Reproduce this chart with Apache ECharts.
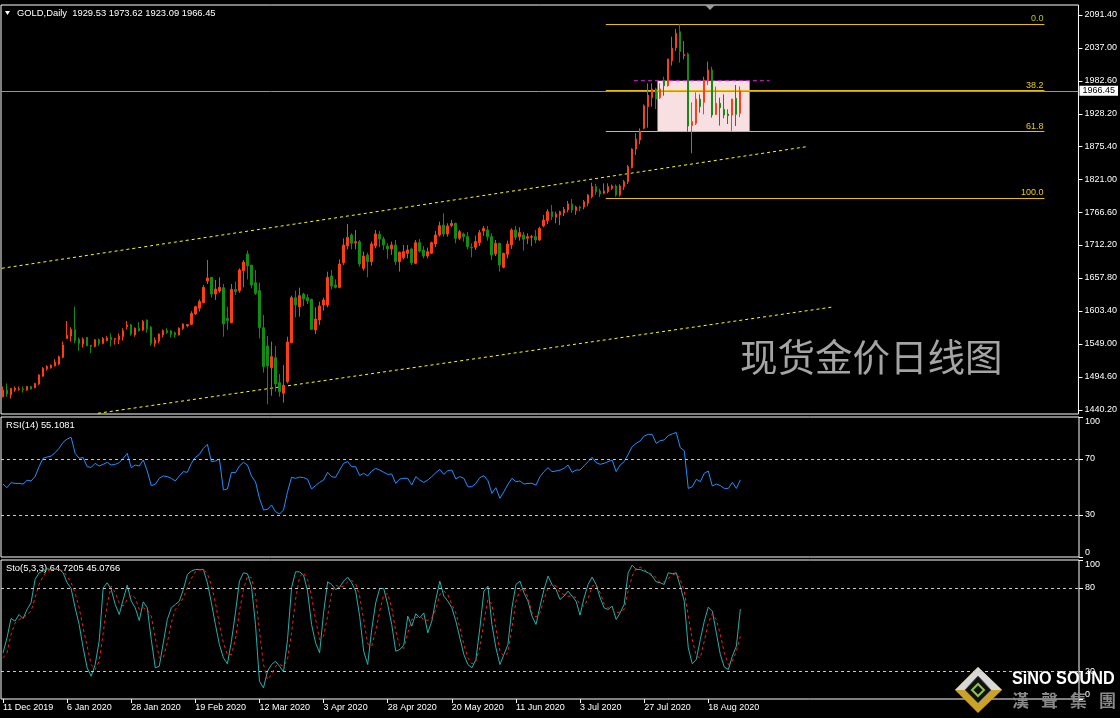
<!DOCTYPE html>
<html><head><meta charset="utf-8">
<script src="https://cdn.jsdelivr.net/npm/echarts@6/dist/echarts.min.js"></script>
<style>html,body{margin:0;padding:0;background:#000;}#c{width:1120px;height:718px;}</style>
</head><body><div id="c"></div>
<script>
// ---------- DATA ----------
// daily candles [open, high, low, close]
const candles = [
[1462,1479,1461,1473],[1473,1484,1462,1467],[1465,1476,1459,1476],[1473,1479,1470,1476],[1474,1479,1472,1475],
[1475,1479,1469,1474],[1473,1480,1472,1479],[1479,1480,1474,1475],[1477,1485,1476,1484],[1483,1499,1481,1498],
[1496,1511,1495,1509],[1508,1514,1505,1512],[1509.5,1515.5,1508.5,1514],[1513,1524,1512,1519],[1516,1530,1514,1528],
[1527,1553,1525.5,1547.5],[1558,1587,1557.5,1563],[1562,1576.5,1553,1573],[1573,1610.5,1550,1554.5],[1557,1560,1538,1550],
[1549,1560,1543,1557],[1560,1560,1546,1546],[1547,1547,1534,1545],[1545,1557,1543.5,1556],[1556,1558,1546,1550],
[1550,1560.5,1548.5,1558],[1554.5,1562,1553.5,1559],[1560,1566.5,1545,1556],[1557,1559,1548,1558],[1556,1566.5,1549,1562],
[1561,1575,1554.5,1571],[1577.5,1587,1573,1580.5],[1580.5,1582,1563,1565.5],[1564,1576.5,1561,1575],[1575,1585,1569.5,1571],
[1572,1588.5,1570.5,1586],[1588.5,1589.5,1568,1574],[1576.5,1579,1546,1550],[1550,1560,1544.5,1555.5],[1554,1566.5,1550,1565.5],
[1564,1573,1560,1571],[1571,1575,1565.5,1568],[1570.5,1572,1560,1565],[1567.5,1569.5,1559.5,1564],[1564,1576.5,1563,1575],
[1574.5,1583,1572,1582],[1579,1582,1576.5,1581],[1581.5,1603,1580,1599.5],[1598.5,1612,1597,1610.5],[1608,1622.5,1602.5,1619],
[1617.2,1646.3,1616.1,1642.4],[1652.9,1687.5,1648,1657.8],[1659,1659,1625.4,1631.4],[1631.4,1654.5,1621.5,1639.7],[1636.4,1659,1633.6,1642.4],
[1641.9,1648,1561.1,1582],[1591.3,1610.6,1572.1,1587.5],[1584.2,1648,1583.1,1639.1],[1639.1,1651.8,1629.8,1635.3],[1637,1673.8,1633.6,1671],
[1669.9,1687.5,1642.4,1684.2],[1697.4,1702.9,1655.6,1677.6],[1679.2,1679.2,1640.8,1646.3],[1650.1,1671,1629.8,1632.5],[1636.9,1650.1,1558.4,1575.9],
[1575.9,1596.8,1501.8,1511.6],[1545.7,1562.2,1449.6,1512.7],[1510,1552.9,1463.8,1528.1],[1526.5,1545.7,1470.4,1483.1],[1485.3,1499.6,1462.2,1470.4],
[1467.7,1514.4,1452.3,1480.9],[1486.9,1561.1,1484.2,1552.3],[1551.2,1628.7,1550.1,1625.4],[1625.4,1636.9,1593,1613.3],[1610.6,1641.9,1594.1,1628.7],
[1631.4,1633.6,1611.7,1623.2],[1625.4,1630.9,1615,1620.4],[1622.6,1623.7,1572.1,1573.2],[1572.1,1609.5,1565.5,1590.2],[1588.6,1618.8,1580.3,1611.7],
[1613.3,1625.4,1604,1621.5],[1613.3,1668.3,1609.5,1658.9],[1661.1,1671,1639.1,1644.6],[1646.3,1655.6,1640.8,1642.4],[1642.4,1688.6,1640.8,1680.9],
[1683.1,1723.2,1679.2,1712.2],[1710.6,1746.8,1705.1,1724.9],[1728.7,1731.4,1705.1,1715],[1715.7,1736.9,1705.1,1717.7],[1717.7,1720.5,1676.5,1680.9],
[1673.8,1701.2,1669.9,1694.1],[1695.7,1699.6,1658.9,1684.7],[1684.8,1717.8,1678.2,1713.9],[1710.6,1737,1706.8,1730.4],[1729.8,1735.3,1708.4,1722.2],
[1722.2,1726,1704,1712.3],[1710.6,1715,1689.2,1705.7],[1705.7,1717.8,1695.8,1712.3],[1712.3,1720.5,1679.3,1684.8],[1684.8,1701.3,1668.3,1700.2],
[1691.4,1712.3,1688.6,1701.3],[1698.5,1712.3,1690.3,1704],[1705.7,1707.9,1679.3,1683.1],[1682,1720.5,1681,1716.1],[1716.1,1722.2,1699.6,1702.4],
[1704,1710.6,1690.3,1694.1],[1694.1,1707.9,1690.3,1701.3],[1698.5,1717.8,1697.4,1716.1],[1713.9,1735.3,1708.4,1728.7],[1728.7,1750.7,1726,1744.1],
[1745.2,1764.5,1726,1730.4],[1730.4,1748,1726,1743.6],[1744.1,1753.5,1741.4,1748],[1748,1749.1,1715,1723.3],[1723.3,1737,1720.5,1734.2],
[1730.4,1732.6,1717.8,1726],[1726,1733.7,1705.1,1709.5],[1708.4,1715,1691.9,1707.3],[1708.4,1727.6,1704,1717.8],[1716.1,1737,1710.6,1732.6],
[1735.3,1743.6,1727.1,1739.7],[1737,1743.6,1719.4,1726],[1726,1731.5,1687.5,1695.8],[1697.4,1720.5,1694.1,1715],[1715,1716.1,1668.3,1679.3],
[1675.4,1699.6,1673.8,1698.5],[1696.9,1719.4,1690.3,1713.9],[1712.3,1739.7,1705.7,1737],[1737,1743.6,1720.5,1724.9],[1726,1741.4,1719.4,1732.6],
[1728.7,1734.2,1703,1721.6],[1723.3,1731.5,1713.9,1726],[1724.9,1728.7,1710.6,1726],[1726,1737,1715,1720.5],[1720.5,1742.5,1718.9,1739.7],
[1743.6,1761.7,1741.4,1753.5],[1752.4,1771.1,1746.9,1767.2],[1767.2,1778.2,1753.5,1759],[1757.9,1767.2,1748,1763.4],[1761.7,1768.9,1745.2,1767.2],
[1765,1775,1760,1771],[1770,1785,1766,1780],[1780,1788,1765,1770],[1769,1777,1762,1775],[1775,1777,1768,1773],
[1775,1786.4,1771,1783.7],[1781,1796,1776,1794.7],[1791.9,1815,1789.2,1808.4],[1808.4,1813,1795,1800.2],[1801.3,1805,1791,1796.3],
[1797.4,1813.9,1795.8,1801.3],[1800.2,1813.9,1797.4,1808.4],[1805.7,1812,1803,1809.5],[1809.5,1812,1792,1794.7],[1794.7,1812.3,1791.9,1809.5],
[1808.4,1819.4,1802.9,1816.6],[1816.6,1844.1,1812.8,1841.4],[1839.7,1871.6,1838.6,1870.5],[1870.5,1896.3,1860.6,1887],[1885.3,1904.6,1878.2,1900.2],
[1904.6,1944.1,1902.9,1941.9],[1940.3,1978.8,1905.7,1959.5],[1955.1,1978.8,1940.3,1969.4],[1969.4,1971.6,1936.4,1952.9],[1955.1,1978.8,1952.9,1969.4],
[1984.3,1989.7,1958.4,1974.9],[1974.9,2018.9,1973.3,2018.9],[2016.1,2055.7,2007.9,2036.5],[2037.5,2068.3,2032,2061.2],[2063.9,2076,2012.8,2031],
[2024.4,2048.5,2018.3,2026.6],[2027.1,2029.3,1899.1,1908.4],[1909,1947.4,1863.4,1915.6],[1912.8,1963.9,1910,1952.9],[1952.9,1960.6,1930.4,1940.3],
[1947.4,1989.7,1927.6,1984.3],[1983.1,2014.5,1975.9,2000.7],[2000.7,2006.2,1922.2,1926.5],[1927.6,1973.3,1926.5,1945.8],[1945.8,1955.1,1909,1938.6],
[1935.9,1960.6,1921.1,1926.5],[1928.2,1935.9,1911.7,1925.4],[1926.5,1952.9,1900.2,1952.9],[1954,1976,1908.4,1927.6],[1929.53,1973.62,1923.09,1966.45]
];
const rsi = [
52.1,49.5,53.1,52.6,52.6,52.1,54.8,54.3,57.4,64.5,
70.5,71.4,72.1,74.5,77.6,81.9,84.3,85.5,74.0,70.5,
71.0,64.5,64.0,66.9,65.0,66.2,67.6,65.7,66.2,67.4,
70.5,74.0,63.8,65.7,65.0,69.3,61.4,51.0,51.9,56.2,
57.9,57.4,56.2,54.3,57.9,61.0,60.5,66.9,71.2,73.3,
77.6,80.5,68.1,68.6,70.0,47.9,48.6,60.5,60.2,65.0,
67.6,65.7,57.9,53.8,41.9,33.6,34.0,37.1,32.4,30.7,
33.6,46.7,56.9,56.2,57.1,56.7,55.5,48.6,51.0,53.3,
55.0,60.5,57.4,56.9,62.1,66.9,68.1,64.5,64.5,58.1,
59.8,57.9,61.4,63.3,62.1,60.5,59.0,59.3,52.6,55.7,
56.2,56.2,51.4,57.4,55.0,53.3,55.0,57.4,60.2,62.6,
59.0,61.7,62.1,55.7,57.4,56.2,50.2,50.2,52.6,56.7,
58.1,54.5,45.5,49.5,41.9,46.7,51.9,56.2,53.8,54.3,
52.1,52.6,52.6,51.4,57.4,61.0,63.8,61.0,61.4,62.1,
63.3,65.7,60.5,62.1,62.1,65.2,68.1,71.2,67.4,66.2,
66.9,68.1,69.3,61.0,65.7,68.1,73.3,78.8,81.2,82.9,
86.4,87.6,87.6,81.2,83.1,83.6,86.7,87.9,89.0,78.1,
76.0,49.0,50.2,55.5,53.8,59.8,61.4,50.7,52.1,51.0,
49.0,49.0,53.3,49.0,55.1
];
const stoMain = [
33.2,44.0,57.9,56.0,60.8,57.9,64.4,69.2,86.0,90.8,
92.0,93.7,93.2,93.2,93.2,90.8,83.6,79.5,65.6,53.6,
36.8,22.4,16.4,24.8,41.6,80.0,83.6,78.8,68.0,60.8,
71.6,81.9,70.4,65.6,56.5,69.9,65.6,42.8,22.4,23.6,
40.4,57.2,65.6,68.0,70.4,78.8,89.6,92.0,93.2,93.2,
93.2,83.6,69.2,53.6,39.2,29.6,25.3,41.6,62.0,84.8,
90.8,90.1,81.2,53.6,12.8,8.0,20.0,24.8,27.2,23.6,
19.5,42.8,80.0,91.5,91.5,89.1,77.6,53.6,40.4,33.2,
62.0,84.3,82.4,78.8,80.5,84.8,87.7,83.6,77.6,59.6,
34.4,24.8,50.0,69.2,79.5,79.5,68.0,53.6,34.4,35.6,
38.7,59.6,52.4,61.3,58.4,62.0,47.6,56.0,71.6,84.8,
74.0,70.4,65.6,56.0,44.0,32.0,24.8,22.4,28.4,51.2,
77.6,81.2,53.6,36.8,24.8,32.0,39.2,65.6,82.4,84.8,
76.4,70.4,59.6,53.6,66.8,78.8,88.4,82.4,78.8,71.6,
74.0,77.6,74.0,70.4,60.3,72.8,82.4,87.7,82.4,72.8,
65.6,64.4,66.8,57.2,62.0,68.0,90.8,96.3,93.2,93.2,
92.0,90.8,88.4,84.3,83.6,82.4,90.8,90.1,90.8,81.2,
70.4,36.8,25.3,28.4,42.8,56.0,66.1,63.2,47.6,32.0,
22.9,21.2,30.8,38.0,64.72
];
const stoSignal = [
29.6,33.2,46.4,54.8,57.2,58.4,60.8,63.2,72.8,82.4,
88.4,92.0,93.2,93.2,93.2,92.0,88.4,83.6,76.4,65.6,
51.2,38.0,24.8,21.2,27.2,47.6,68.0,81.2,76.4,69.2,
66.8,71.6,74.7,72.8,64.4,65.6,64.4,59.6,44.0,29.6,
29.6,40.4,54.8,64.4,68.0,72.8,80.0,86.7,91.5,92.7,
93.2,90.1,81.9,69.2,53.6,40.4,32.0,32.0,42.8,63.2,
78.8,88.4,87.2,75.2,48.8,24.8,14.0,17.6,23.6,24.8,
23.6,28.4,47.6,71.6,87.7,90.8,86.0,74.0,57.2,42.8,
45.2,59.6,76.4,81.9,80.5,81.2,84.3,85.3,82.9,74.0,
57.2,39.7,38.0,49.0,63.2,75.2,75.7,65.6,48.8,38.0,
36.3,47.6,57.2,58.4,59.6,57.2,56.5,58.4,64.4,75.2,
77.6,75.2,68.0,62.0,51.2,39.2,29.6,25.3,27.2,36.8,
56.0,71.6,68.0,51.2,34.4,30.8,33.2,51.2,70.4,78.1,
80.0,72.8,62.0,58.9,62.0,71.6,80.0,82.9,81.2,76.4,
75.2,74.0,74.0,72.8,68.0,66.8,72.3,81.2,82.4,76.4,
68.5,65.6,64.4,62.0,62.7,64.4,77.6,88.4,93.9,94.9,
93.2,90.8,89.6,87.2,83.6,84.3,86.7,89.1,90.3,86.0,
77.6,59.6,42.8,30.8,29.6,41.6,54.8,61.3,57.2,46.4,
33.2,24.8,27.2,34.4,45.08
];
const dateLabels = ['11 Dec 2019','6 Jan 2020','28 Jan 2020','19 Feb 2020','12 Mar 2020','3 Apr 2020',
  '28 Apr 2020','20 May 2020','11 Jun 2020','3 Jul 2020','27 Jul 2020','18 Aug 2020'];
const priceTicks = [2091.4,2037.0,1982.6,1928.2,1875.4,1821.0,1766.6,1712.2,1657.8,1603.4,1549.0,1494.6,1440.2];
const rsiTicks = [0,30,70,100];
const rsiLevels = [70,30];
const stoTicks = [0,20,80,100];
const stoLevels = [80,20];
const fibLabels = ['0.0','38.2','61.8','100.0'];
const fibPrices = [2076.2,1966.7,1899.1,1789.6];
const fibBars = [150.5,260];
const upperTrend = [[-0.3,1673.8],[200.9,1874.6]];
const lowerTrend = [[23.7,1434.8],[207.1,1610.0]];
const boxCorners = [[163.4,1983.2],[186.4,1900.2]];
const magentaLine = [[157.5,1983.1],[191.4,1983.1]];
const lastPrice = 1966.45;
const headerText = 'GOLD,Daily  1929.53 1973.62 1923.09 1966.45';
const rsiText = 'RSI(14) 55.1081';
const stoText = 'Sto(5,3,3) 64.7205 45.0766';
const watermark = '现货金价日线图';
const logoName = 'SiNO SOUND';
const logoChars = ['漢','聲','集','團'];
const TOTAL_SLOTS = 269;
const LABEL_EVERY = 16;

// ---------- CHART ----------
const FONT = 'Liberation Sans';
const chart = echarts.init(document.getElementById('c'), null, {renderer: 'canvas'});
const cats = Array.from({length: TOTAL_SLOTS}, (_, i) => String(i));
const labelInterval = (idx) => idx % LABEL_EVERY === 0 && idx / LABEL_EVERY < dateLabels.length;

const grids = [
  {left: 1, top: 5, width: 1078, height: 409},
  {left: 1, top: 417, width: 1078, height: 140},
  {left: 1, top: 560, width: 1078, height: 139}
].map(g => Object.assign({show: true, borderColor: '#ffffff', borderWidth: 1, backgroundColor: '#000'}, g));

const hiddenCat = (gi) => ({type: 'category', gridIndex: gi, data: cats, boundaryGap: true,
  axisLine: {show: false}, axisTick: {show: false}, axisLabel: {show: false}, splitLine: {show: false}});

const yAx = (gi, min, max, ticks, fmt, edgeAlign) => {
  const lab = {color: '#ffffff', fontSize: 9, fontFamily: FONT, margin: 6, customValues: ticks, formatter: fmt};
  if (edgeAlign) { lab.verticalAlignMinLabel = 'bottom'; lab.verticalAlignMaxLabel = 'top'; }
  return {type: 'value', gridIndex: gi, position: 'right', min, max,
    splitLine: {show: false}, axisLine: {show: false, onZero: false},
    axisTick: {show: true, length: 4, lineStyle: {color: '#ffffff'}, customValues: ticks},
    axisLabel: lab};
};

const levelLines = (levels) => ({silent: true, symbol: ['none', 'none'], label: {show: false},
  lineStyle: {color: '#c8c8c8', type: [3, 3], width: 1}, data: levels.map(v => ({yAxis: v}))});

const overlay = (extra) => Object.assign({type: 'line', xAxisIndex: 3, yAxisIndex: 0, symbol: 'none',
  silent: true, animation: false}, extra);

const logoCharGraphics = logoChars.map((ch, i) => ({type: 'text', left: 1012 + i * 29, top: 692,
  style: {text: ch, fill: '#8a8a8a', font: 'bold 17px "Noto Sans CJK TC"'}}));

const option = {
  animation: false,
  backgroundColor: '#000000',
  grid: grids,
  xAxis: [
    hiddenCat(0), hiddenCat(1),
    {type: 'category', gridIndex: 2, data: cats, boundaryGap: true,
      axisLine: {show: false, onZero: false}, splitLine: {show: false},
      axisTick: {show: true, interval: labelInterval, alignWithLabel: true, length: 4, lineStyle: {color: '#ffffff'}},
      axisLabel: {show: true, interval: labelInterval, align: 'left', color: '#ffffff', fontSize: 9, fontFamily: FONT, margin: 4,
        formatter: (v, idx) => dateLabels[Math.round(idx / LABEL_EVERY)] || ''}},
    {type: 'value', gridIndex: 0, min: -0.5, max: TOTAL_SLOTS - 0.5, show: false, axisLine: {onZero: false}}
  ],
  yAxis: [
    yAx(0, 1433.6, 2107.9, priceTicks, v => v.toFixed(2), false),
    yAx(1, 0, 100, rsiTicks, v => String(v), true),
    yAx(2, 0, 100, stoTicks, v => String(v), true)
  ],
  series: [
    overlay({z: 1, data: [boxCorners[0]], lineStyle: {opacity: 0},
      markArea: {silent: true, itemStyle: {color: '#f8dfe1'},
        data: [[{coord: boxCorners[0]}, {coord: boxCorners[1]}]]}}),
    overlay({z: 2, data: [[fibBars[0], fibPrices[0]]], lineStyle: {opacity: 0},
      markLine: {silent: true, symbol: ['none', 'none'], lineStyle: {color: '#e8c000', type: 'solid', width: 1},
        data: fibPrices.map((p, i) => [
          {coord: [fibBars[0], p], label: {show: true, position: 'insideEndTop', formatter: fibLabels[i],
            color: i === 0 ? '#b8c800' : '#e8d000', fontSize: 9, fontFamily: FONT, distance: 1}},
          {coord: [fibBars[1], p]}])}}),
    overlay({z: 3, data: magentaLine, lineStyle: {color: '#e020e0', type: [4, 3], width: 1}}),
    overlay({z: 3, data: upperTrend, lineStyle: {color: '#ffff00', type: [3, 3], width: 1}}),
    overlay({z: 3, data: lowerTrend, lineStyle: {color: '#ffff00', type: [3, 3], width: 1}}),
    {type: 'candlestick', xAxisIndex: 0, yAxisIndex: 0, z: 5, barWidth: 2,
      data: candles.map(([o, h, l, c]) => [o, c, l, h]),
      itemStyle: {color: '#ff3c14', color0: '#0f8f0f', borderColor: '#ff3c14', borderColor0: '#0f8f0f', borderWidth: 1},
      markLine: {silent: true, symbol: ['none', 'none'], lineStyle: {color: '#8a96a2', type: 'solid', width: 1},
        label: {show: true, position: 'end', formatter: lastPrice.toFixed(2), color: '#000', backgroundColor: '#ffffff',
          padding: [1, 3, 0, 3], fontSize: 9, fontFamily: FONT, distance: 1},
        data: [{yAxis: lastPrice}]}},
    {type: 'line', xAxisIndex: 1, yAxisIndex: 1, data: rsi, symbol: 'none', z: 4,
      lineStyle: {color: '#1e90ff', width: 1}, markLine: levelLines(rsiLevels)},
    {type: 'line', xAxisIndex: 2, yAxisIndex: 2, data: stoMain, symbol: 'none', z: 4,
      lineStyle: {color: '#20b2aa', width: 1}, markLine: levelLines(stoLevels)},
    {type: 'line', xAxisIndex: 2, yAxisIndex: 2, data: stoSignal, symbol: 'none', z: 5,
      lineStyle: {color: '#ff1a1a', width: 1, type: [3, 3]}}
  ],
  graphic: [
    {type: 'polygon', shape: {points: [[5, 11], [10, 11], [7.5, 15]]}, style: {fill: '#ffffff'}},
    {type: 'text', left: 17, top: 9, style: {text: headerText, fill: '#ffffff', font: '9.4px "Liberation Sans"'}},
    {type: 'text', left: 6, top: 421, style: {text: rsiText, fill: '#ffffff', font: '9.4px "Liberation Sans"'}},
    {type: 'text', left: 6, top: 564, style: {text: stoText, fill: '#ffffff', font: '9.4px "Liberation Sans"'}},
    {type: 'polygon', shape: {points: [[705, 5], [715, 5], [710, 10]]}, style: {fill: '#9a9a9a'}},
    {type: 'text', left: 740, top: 338, style: {text: watermark, fill: '#a4a4a4', font: '37.5px "Noto Sans CJK SC"'}},
    // logo
    {type: 'polygon', shape: {points: [[978, 667], [1002, 690], [978, 713], [955, 690]]}, style: {fill: '#c9a227'}},
    {type: 'polygon', shape: {points: [[978, 667], [1002, 690], [955, 690]]}, style: {fill: '#d8d8d8'}},
    {type: 'polygon', shape: {points: [[978, 676], [991, 690], [978, 703], [965, 690]]}, style: {fill: '#111111', stroke: '#555', lineWidth: 1}},
    {type: 'polygon', shape: {points: [[978, 684], [984, 690], [978, 696], [972, 690]]}, style: {fill: 'none', stroke: '#8dc63f', lineWidth: 2}},
    {type: 'text', x: 1012, y: 670, scaleX: 0.9, scaleY: 1, style: {text: logoName, fill: '#ffffff', font: 'bold 18px "Liberation Sans"'}}
  ].concat(logoCharGraphics)
};
chart.setOption(option);
</script>
</body></html>
